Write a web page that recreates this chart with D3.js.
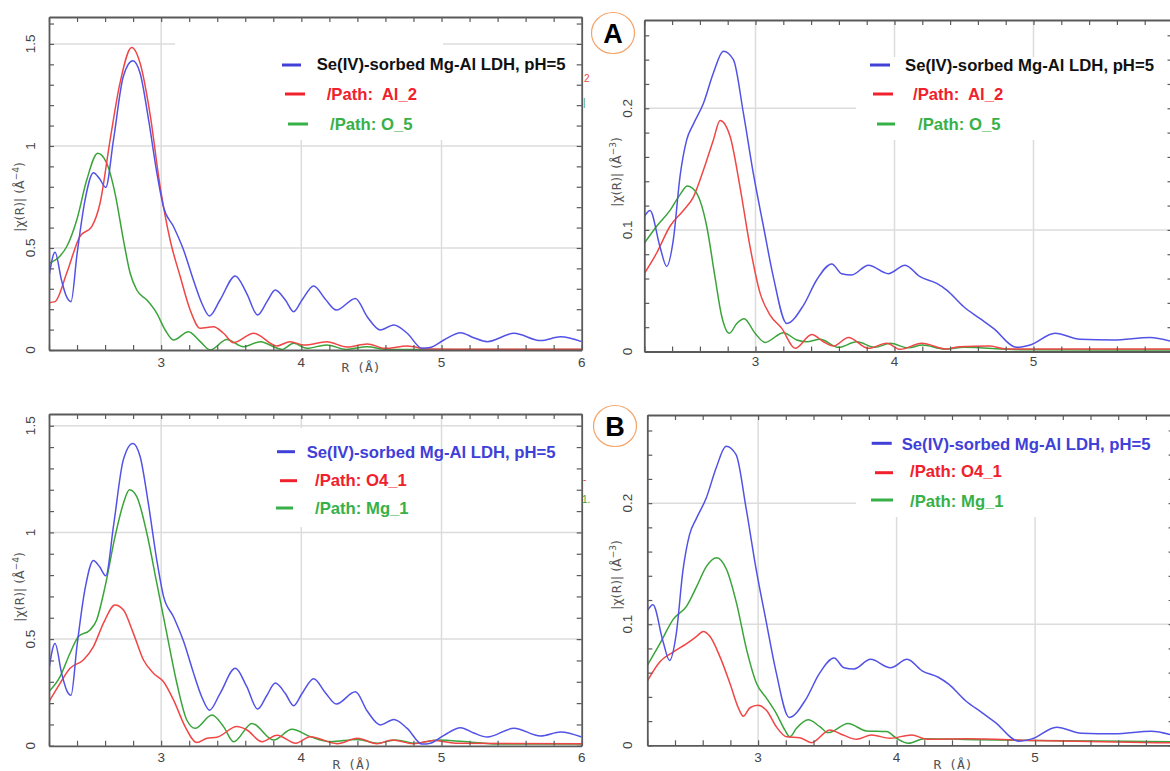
<!DOCTYPE html>
<html><head><meta charset="utf-8">
<script src="https://cdn.jsdelivr.net/npm/d3@7"></script>
<style>
body{margin:0;background:#fff;}
svg{display:block;font-family:"Liberation Sans",Arial,sans-serif;}
</style></head><body>
<svg id="c" width="1170" height="771"></svg>
<script>
// ---------- DATA ----------
// Experimental |chi(R)|, k^4 weighted (left panels)
const blueK4 = [[2.2,0.36],[2.243,0.479],[2.29,0.34],[2.326,0.26],[2.357,0.237],[2.40,0.47],[2.457,0.735],[2.517,0.869],[2.56,0.84],[2.605,0.797],[2.66,1.03],[2.73,1.34],[2.798,1.417],[2.85,1.356],[2.91,1.13],[2.97,0.866],[3.017,0.70],[3.088,0.605],[3.16,0.49],[3.23,0.343],[3.29,0.229],[3.345,0.167],[3.42,0.245],[3.529,0.363],[3.61,0.278],[3.688,0.172],[3.755,0.237],[3.814,0.294],[3.886,0.245],[3.945,0.188],[4.005,0.245],[4.088,0.314],[4.17,0.25],[4.25,0.196],[4.386,0.253],[4.47,0.163],[4.564,0.098],[4.66,0.123],[4.755,0.082],[4.862,0.008],[4.92,0.012],[5.017,0.049],[5.136,0.085],[5.23,0.06],[5.326,0.041],[5.517,0.082],[5.707,0.046],[5.85,0.065],[6.0,0.041]];
// Path Al_2 (panel A, k^4)
const redAl2K4 = [[2.2,0.232],[2.243,0.237],[2.326,0.376],[2.42,0.556],[2.505,0.605],[2.564,0.719],[2.636,1.03],[2.707,1.31],[2.79,1.482],[2.85,1.405],[2.92,1.16],[2.993,0.80],[3.064,0.539],[3.136,0.36],[3.207,0.196],[3.279,0.106],[3.374,0.114],[3.445,0.082],[3.517,0.036],[3.66,0.082],[3.826,0.02],[3.92,0.041],[4.02,0.024],[4.183,0.04],[4.325,0.015],[4.47,0.03],[4.6,0.008],[4.755,0.02],[4.9,0.005],[5.2,0.004],[6.0,0.004]];
// Path O_5 (panel A, k^4)
const greenO5K4 = [[2.2,0.425],[2.279,0.461],[2.326,0.506],[2.398,0.637],[2.469,0.833],[2.548,0.964],[2.612,0.915],[2.671,0.768],[2.731,0.539],[2.779,0.376],[2.826,0.294],[2.898,0.245],[2.969,0.18],[3.029,0.098],[3.088,0.049],[3.195,0.09],[3.279,0.041],[3.35,0.0],[3.469,0.052],[3.588,0.016],[3.707,0.041],[3.862,0.003],[3.945,0.033],[4.04,0.008],[4.18,0.025],[4.32,0.003],[4.47,0.016],[4.6,0.003],[5.0,0.002],[6.0,0.002]];
// Experimental |chi(R)|, k^3 weighted (right panels)
const blueK3 = [[2.2,0.111],[2.241,0.116],[2.313,0.086],[2.361,0.07],[2.409,0.092],[2.457,0.144],[2.505,0.174],[2.553,0.187],[2.625,0.204],[2.697,0.229],[2.769,0.247],[2.841,0.24],[2.913,0.196],[2.985,0.146],[3.057,0.103],[3.129,0.061],[3.225,0.023],[3.345,0.038],[3.441,0.059],[3.549,0.072],[3.62,0.064],[3.692,0.063],[3.812,0.071],[3.956,0.064],[4.076,0.071],[4.184,0.0615],[4.304,0.056],[4.376,0.0505],[4.496,0.037],[4.616,0.027],[4.712,0.019],[4.88,0.0034],[4.976,0.0053],[5.155,0.015],[5.335,0.01],[5.575,0.0095],[5.839,0.0116],[6.0,0.008]];
// Path Al_2 (panel A, k^3)
const redAl2K3 = [[2.2,0.064],[2.289,0.081],[2.385,0.103],[2.481,0.116],[2.553,0.127],[2.625,0.149],[2.697,0.174],[2.745,0.19],[2.817,0.177],[2.889,0.135],[2.961,0.086],[3.033,0.048],[3.105,0.03],[3.189,0.019],[3.285,0.0026],[3.405,0.014],[3.489,0.008],[3.561,0.0045],[3.669,0.0116],[3.812,0.0026],[3.944,0.0067],[4.04,0.0018],[4.196,0.0067],[4.376,0.002],[4.47,0.004],[4.688,0.0045],[4.8,0.002],[6.0,0.002]];
// Path O_5 (panel A, k^3)
const greenO5K3 = [[2.2,0.089],[2.289,0.103],[2.385,0.116],[2.457,0.129],[2.51,0.136],[2.577,0.13],[2.649,0.103],[2.709,0.061],[2.757,0.029],[2.812,0.015],[2.865,0.023],[2.918,0.027],[2.997,0.015],[3.069,0.0075],[3.201,0.0155],[3.297,0.0095],[3.369,0.008],[3.465,0.01],[3.597,0.0034],[3.729,0.008],[3.86,0.0034],[3.968,0.0067],[4.1,0.003],[4.2,0.0053],[4.36,0.002],[4.5,0.0035],[4.9,0.0015],[6.0,0.0012]];
// Path O4_1 (panel B, k^4)
const redO41K4 = [[2.2,0.207],[2.279,0.293],[2.35,0.363],[2.445,0.402],[2.517,0.465],[2.588,0.574],[2.671,0.66],[2.731,0.636],[2.802,0.527],[2.874,0.402],[2.945,0.34],[3.017,0.30],[3.088,0.215],[3.171,0.09],[3.255,0.015],[3.326,0.035],[3.398,0.04],[3.54,0.09],[3.612,0.074],[3.719,0.019],[3.826,0.05],[3.96,0.012],[4.064,0.043],[4.255,0.01],[4.4,0.035],[4.54,0.01],[4.647,0.027],[4.8,0.01],[4.945,0.025],[5.1,0.012],[6.0,0.01]];
// Path Mg_1 (panel B, k^4)
const greenMg1K4 = [[2.2,0.254],[2.279,0.324],[2.35,0.434],[2.41,0.512],[2.493,0.543],[2.54,0.59],[2.6,0.746],[2.671,0.98],[2.731,1.137],[2.774,1.2],[2.826,1.168],[2.898,0.996],[2.969,0.762],[3.04,0.527],[3.112,0.293],[3.183,0.121],[3.243,0.082],[3.362,0.144],[3.445,0.09],[3.517,0.019],[3.648,0.105],[3.802,0.027],[3.933,0.077],[4.064,0.043],[4.207,0.019],[4.4,0.03],[4.54,0.012],[4.671,0.027],[4.82,0.012],[4.969,0.027],[5.183,0.019],[5.4,0.008],[6.0,0.008]];
// Path O4_1 (panel B, k^3)
const redO41K3 = [[2.2,0.053],[2.291,0.069],[2.387,0.077],[2.484,0.084],[2.556,0.09],[2.604,0.094],[2.652,0.09],[2.725,0.073],[2.797,0.051],[2.857,0.031],[2.893,0.024],[2.941,0.031],[3.0,0.033],[3.06,0.029],[3.133,0.015],[3.205,0.007],[3.301,0.0063],[3.386,0.0022],[3.518,0.0127],[3.614,0.0085],[3.711,0.005],[3.819,0.0085],[3.952,0.0058],[4.109,0.0085],[4.22,0.005],[4.5,0.0055],[5.0,0.004],[6.0,0.002]];
// Path Mg_1 (panel B, k^3)
const greenMg1K3 = [[2.2,0.066],[2.291,0.084],[2.387,0.104],[2.484,0.115],[2.556,0.131],[2.628,0.148],[2.701,0.155],[2.773,0.145],[2.845,0.117],[2.917,0.079],[2.989,0.051],[3.06,0.039],[3.133,0.026],[3.193,0.0127],[3.229,0.007],[3.277,0.014],[3.362,0.021],[3.446,0.0154],[3.506,0.0105],[3.65,0.018],[3.783,0.0118],[3.927,0.0113],[4.0,0.0058],[4.085,0.0017],[4.2,0.0055],[4.6,0.0045],[5.0,0.004],[6.0,0.003]];

const xDomain = [2.2, 6];
const xTicksLeft = [3, 4, 5, 6];
const xTicksRight = [3, 4, 5];
const yTicksK4 = [0, 0.5, 1, 1.5];
const yTicksK3 = [0, 0.1, 0.2];
const legendA = ["Se(IV)-sorbed Mg-Al LDH, pH=5", "/Path:  Al_2", "/Path: O_5"];
const legendB = ["Se(IV)-sorbed Mg-Al LDH, pH=5", "/Path: O4_1", "/Path: Mg_1"];
const xTitle = "R (Å)";
const badges = ["A", "B"];

// ---------- STYLE ----------
const C = {blue:"#5252e6", red:"#f04646", green:"#3aa43a",
  legBlue:"#4040d8", legRed:"#f0202c", legGreen:"#38b048",
  axis:"#5a5a5a", grid:"#dcdcdc", text:"#555"};

const panels = [
 {x0:49, x1:581.7, yb:350, yt:17, ymax:1.632, yTicks:yTicksK4, xTicks:xTicksLeft, minorY:0.1, exp:"4",
  series:[blueK4, redAl2K4, greenO5K4], legend:legendA, legTextFirst:"#111",
  box:[175,17,443,140], yLabX:35, yTitleX:20, yTitleY:197, xLabY:367, xTitleX:361, xTitleY:372,
  leg:{rows:[70,100,130], seg:[[282,301,65],[285,305,94],[288,308,124]], tx:[316.7,326.7,330]},
  marks:[["2",584,82,C.red],["|",583,106,C.green]]},
 {x0:644.3, x1:1172.5, yb:351.5, yt:20, ymax:0.2726, yTicks:yTicksK3, xTicks:xTicksRight, minorY:0.02, exp:"3",
  series:[blueK3, redAl2K3, greenO5K3], legend:legendA, legTextFirst:"#111",
  box:[856,57,1170,140], yLabX:632, yTitleX:617, yTitleY:172, xLabY:366, xTitleX:null,
  leg:{rows:[71,100,130], seg:[[870,890,65],[873,893,94],[877,895,124]], tx:[905,913,918]},
  marks:[]},
 {x0:49, x1:581.7, yb:745.8, yt:414, ymax:1.555, yTicks:yTicksK4, xTicks:xTicksLeft, minorY:0.1, exp:"4",
  series:[blueK4, redO41K4, greenMg1K4], legend:legendB, legTextFirst:C.legBlue,
  box:[175,428,440,527], yLabX:35, yTitleX:20, yTitleY:587, xLabY:762, xTitleX:352, xTitleY:769,
  leg:{rows:[458,486,514], seg:[[277,295,451.7],[280,297,480.7],[276,293,508]], tx:[306.7,315,315]},
  marks:[["-",583,483,C.red],["1.",582,503,C.green]]},
 {x0:647.3, x1:1173.6, yb:745.3, yt:415, ymax:0.2728, yTicks:yTicksK3, xTicks:xTicksRight, minorY:0.02, exp:"3",
  series:[blueK3, redO41K3, greenMg1K3], legend:legendB, legTextFirst:C.legBlue,
  box:[856,420,1170,517], yLabX:632, yTitleX:617, yTitleY:575, xLabY:762, xTitleX:953, xTitleY:769,
  leg:{rows:[450,477,506.7], seg:[[871.7,891.7,443.3],[875,893,472.7],[871,893,500]], tx:[901.7,910,910]},
  marks:[]}
];

const svg = d3.select("#c");
const lineColors = [C.blue, C.red, C.green];
const legColors = [C.legBlue, C.legRed, C.legGreen];

panels.forEach((p, i) => {
  const x = d3.scaleLinear().domain(xDomain).range([p.x0, p.x1]);
  const y = d3.scaleLinear().domain([0, p.ymax]).range([p.yb, p.yt]);
  const g = svg.append("g");
  const W = p.x1 - p.x0, H = p.yb - p.yt;

  // gridlines
  const grid = g.append("g");
  grid.selectAll("line.gx").data([3,4,5]).join("line")
    .attr("x1", d => x(d)).attr("x2", d => x(d)).attr("y1", p.yt).attr("y2", p.yb)
    .attr("stroke", C.grid).attr("stroke-width", 1.5);
  grid.selectAll("line.gy").data(p.yTicks.filter(v => v > 0)).join("line")
    .attr("x1", p.x0).attr("x2", p.x1).attr("y1", d => y(d)).attr("y2", d => y(d))
    .attr("stroke", C.grid).attr("stroke-width", 1.5);
  // white legend backing box (hides part of the grid as in the original)
  g.append("rect").attr("x", p.box[0]).attr("y", p.box[1])
    .attr("width", p.box[2]-p.box[0]).attr("height", p.box[3]-p.box[1]).attr("fill", "#fff");

  // clip
  const cid = "clip" + i;
  svg.append("clipPath").attr("id", cid).append("rect")
    .attr("x", p.x0).attr("y", p.yt).attr("width", W).attr("height", H);

  // curves
  const line = d3.line().x(d => x(d[0])).y(d => y(d[1])).curve(d3.curveMonotoneX);
  const cg = g.append("g").attr("clip-path", `url(#${cid})`);
  [2, 1, 0].forEach(k => {
    cg.append("path").datum(p.series[k]).attr("d", line)
      .attr("fill", "none").attr("stroke", lineColors[k]).attr("stroke-width", 1.5)
      .attr("stroke-linejoin", "round");
  });

  // axes: minor ticks inward on all four sides
  const xMinor = d3.range(2.2, 6.0001, 0.2);
  const yMinor = d3.range(0, p.ymax + 1e-9, p.minorY);
  const axStyle = sel => { sel.selectAll("path").attr("stroke", C.axis).attr("stroke-width", 1.8);
    sel.selectAll("line").attr("stroke", C.axis).attr("stroke-width", 1.2); };
  g.append("g").attr("transform", `translate(0,${p.yb})`)
    .call(d3.axisBottom(x).tickValues(xMinor).tickSize(-5).tickSizeOuter(0).tickFormat(""))
    .call(axStyle);
  g.append("g").attr("transform", `translate(0,${p.yt})`)
    .call(d3.axisTop(x).tickValues(xMinor).tickSize(-5).tickSizeOuter(0).tickFormat(""))
    .call(axStyle);
  g.append("g").attr("transform", `translate(${p.x0},0)`)
    .call(d3.axisLeft(y).tickValues(yMinor).tickSize(-5).tickSizeOuter(0).tickFormat(""))
    .call(axStyle);
  g.append("g").attr("transform", `translate(${p.x1},0)`)
    .call(d3.axisRight(y).tickValues(yMinor).tickSize(-5).tickSizeOuter(0).tickFormat(""))
    .call(axStyle);

  // x tick labels
  g.selectAll("text.xl").data(p.xTicks).join("text")
    .attr("x", d => Math.min(x(d), 1163)).attr("y", p.xLabY).attr("text-anchor", "middle")
    .attr("font-size", 13.5).attr("fill", "#444").text(d => d);
  // y tick labels (rotated)
  g.selectAll("text.yl").data(p.yTicks).join("text")
    .attr("transform", d => `translate(${p.yLabX},${y(d)}) rotate(-90)`)
    .attr("text-anchor", "middle").attr("font-size", 13.5).attr("fill", "#444")
    .text(d => d3.format("~g")(d));
  // y title
  const yt = g.append("text")
    .attr("transform", `translate(${p.yTitleX + 4},${p.yTitleY}) rotate(-90)`)
    .attr("text-anchor", "middle").attr("font-size", 12.5).attr("fill", C.text)
    .attr("font-family", "DejaVu Sans, sans-serif");
  yt.append("tspan").text("|χ(R)| (Å");
  yt.append("tspan").attr("dy", -5).attr("font-size", 9).text("−" + p.exp);
  yt.append("tspan").attr("dy", 5).text(")");
  // x title
  if (p.xTitleX !== null) {
    g.append("text").attr("x", p.xTitleX).attr("y", p.xTitleY).attr("text-anchor", "middle")
      .attr("font-size", 13).attr("fill", C.text).attr("font-family", "DejaVu Sans Mono, monospace")
      .text(xTitle);
  }

  // legend
  const lg = g.append("g");
  p.legend.forEach((t, k) => {
    const s = p.leg.seg[k];
    lg.append("line").attr("x1", s[0]).attr("x2", s[1]).attr("y1", s[2]).attr("y2", s[2])
      .attr("stroke", legColors[k]).attr("stroke-width", 3);
    lg.append("text").attr("x", p.leg.tx[k]).attr("y", p.leg.rows[k])
      .attr("font-size", 16.7).attr("font-weight", "bold")
      .attr("fill", k === 0 ? p.legTextFirst : legColors[k])
      .attr("xml:space", "preserve").style("white-space", "pre").text(t);
  });

  // small stray marks at the right edge, as in the source image
  p.marks.forEach(m => {
    g.append("text").attr("x", m[1]).attr("y", m[2]).attr("font-size", 10)
      .attr("fill", m[3]).text(m[0]);
  });
});

// panel badges
const badgePos = [[613, 33], [615, 426]];
badges.forEach((b, i) => {
  const bg = svg.append("g").attr("transform", `translate(${badgePos[i][0]},${badgePos[i][1]})`);
  bg.append("ellipse").attr("rx", 21.5).attr("ry", 20.5).attr("fill", "#fff")
    .attr("stroke", "#f5a468").attr("stroke-width", 1.2);
  bg.append("text").attr("y", 9.5).attr("text-anchor", "middle").attr("font-size", 27)
    .attr("font-weight", "bold").attr("fill", "#000").text(b);
});
</script>
</body></html>
